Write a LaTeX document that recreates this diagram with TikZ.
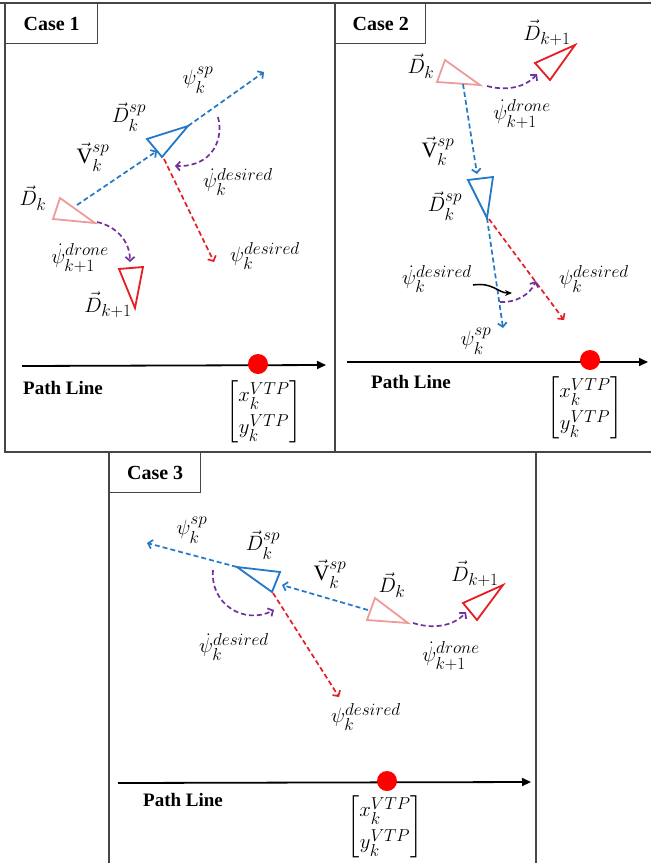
\documentclass[tikz,border=0pt]{standalone}
\usepackage{amsmath}
\usepackage{fontspec}
\setmainfont{Liberation Serif}
\usetikzlibrary{arrows.meta}
\DeclareMathSizes{21}{22}{16}{13}
\definecolor{myblue}{RGB}{35,120,200}
\definecolor{mypink}{RGB}{240,155,155}
\definecolor{myred}{RGB}{230,30,35}
\definecolor{mypurple}{RGB}{112,48,160}
\definecolor{myframe}{RGB}{70,70,70}
\newcommand{\vtpmat}{$\begin{bmatrix} x_k^{VTP}\\[6pt] y_k^{VTP}\end{bmatrix}$}
\begin{document}
\begin{tikzpicture}[x=1pt,y=-1pt,
  frame/.style={draw=myframe,line width=1.4pt},
  caselbl/.style={draw=myframe,line width=1.4pt,font=\fontsize{20}{22}\selectfont\bfseries,inner sep=0pt},
  lbl/.style={font=\fontsize{21}{23}\selectfont,inner sep=0pt},
  pathlbl/.style={font=\fontsize{19}{21}\selectfont\bfseries,inner sep=0pt},
  dsh/.style={line width=1.7pt,dash pattern=on 5pt off 3pt,-{Straight Barb[length=4pt,width=9pt]}},
  bluearr/.style={dsh,draw=myblue},
  redarr/.style={dsh,draw=myred},
  purparr/.style={dsh,draw=mypurple},
  tri/.style={line width=1.8pt,line join=miter},
  pinktri/.style={tri,draw=mypink},
  bluetri/.style={tri,draw=myblue},
  redtri/.style={tri,draw=myred},
  pathline/.style={draw=black,line width=1.8pt,-{Triangle[length=9pt,width=8pt]}},
  vtp/.style={fill=red,circle,minimum size=20pt,inner sep=0pt}]
\useasboundingbox (0,0) rectangle (651,863);
\clip (0,0) rectangle (651,863);
\fill[white] (0,0) rectangle (651,863);

% ---------- frames ----------
\draw[frame] (0,3) -- (651,3);
\draw[frame] (5,3) rectangle (335,452);
\draw[frame] (335,3) rectangle (660,452);
\draw[frame] (109,452) rectangle (536,870);
\node[caselbl,minimum width=92pt,minimum height=40pt,anchor=north west] (c1) at (5,3) {Case 1};
\node[caselbl,minimum width=90pt,minimum height=40pt,anchor=north west] (c2) at (335,3) {Case 2};
\node[caselbl,minimum width=91pt,minimum height=40pt,anchor=north west] (c3) at (109,452) {Case 3};

% ================= CASE 1 =================
\coordinate (a1) at (60,198); \coordinate (a2) at (53,219); \coordinate (a3) at (95,223);
\draw[pinktri] (a1) -- (a2) -- (a3) -- cycle;
\coordinate (b1) at (147,139); \coordinate (b2) at (162,157); \coordinate (b3) at (188,126);
\draw[bluetri] (b1) -- (b2) -- (b3) -- cycle;
\coordinate (r1) at (119,269); \coordinate (r2) at (143,267); \coordinate (r3) at (135,308);
\draw[redtri] (r1) -- (r2) -- (r3) -- cycle;
\coordinate (vs1) at (77,205); \coordinate (ve1) at (157,151);
\draw[bluearr] (vs1) -- (ve1);
\coordinate (pe1) at (264,72);
\draw[bluearr] (b3) -- (pe1);
\coordinate (rs1) at (164,159); \coordinate (re1) at (214,262);
\draw[redarr] (rs1) -- (re1);
\coordinate (ds1) at (218,117); \coordinate (de1) at (175,166);
\draw[purparr] (ds1) .. controls (224,140) and (212,167) .. (de1);
\coordinate (dr1) at (97,222); \coordinate (dre1) at (130,262);
\draw[purparr] (dr1) .. controls (115,226) and (130,240) .. (dre1);

\node[lbl] (l1a) at (198,80) {$\psi_k^{sp}$};
\node[lbl] (l1b) at (129,117) {$\vec{D}_k^{sp}$};
\node[lbl] (l1c) at (93,157) {$\vec{\mathrm{V}}_k^{sp}$};
\node[lbl] (l1d) at (238,182) {$\dot{\psi}_k^{desired}$};
\node[lbl] (l1e) at (33,198) {$\vec{D}_k$};
\node[lbl] (l1f) at (80,258) {$\dot{\psi}_{k+1}^{drone}$};
\node[lbl] (l1g) at (265,256) {$\psi_k^{desired}$};
\node[lbl] (l1h) at (108,305) {$\vec{D}_{k+1}$};

\coordinate (ps1) at (22,366); \coordinate (pp1) at (326,365);
\draw[pathline] (ps1) -- (pp1);
\node[vtp] (dot1) at (258,364) {};
\node[pathlbl] (pl1) at (63,388) {Path Line};
\node[lbl] (m1) at (264,412) {\vtpmat};

% ================= CASE 2 =================
\coordinate (a4) at (445,60); \coordinate (a5) at (437,82); \coordinate (a6) at (480,85);
\draw[pinktri] (a4) -- (a5) -- (a6) -- cycle;
\coordinate (r4) at (535,63); \coordinate (r5) at (575,45); \coordinate (r6) at (550,80);
\draw[redtri] (r4) -- (r5) -- (r6) -- cycle;
\coordinate (b4) at (468,180); \coordinate (b5) at (493,177); \coordinate (b6) at (487,218);
\draw[bluetri] (b4) -- (b5) -- (b6) -- cycle;
\coordinate (vs2) at (463,84); \coordinate (ve2) at (477,174);
\draw[bluearr] (vs2) -- (ve2);
\coordinate (pe2) at (503,328);
\draw[bluearr] (b6) -- (pe2);
\coordinate (rs2) at (489,219); \coordinate (re2) at (564,320);
\draw[redarr] (rs2) -- (re2);
\coordinate (dr2) at (487,86); \coordinate (dre2) at (537,74);
\draw[purparr] (dr2) .. controls (505,91) and (525,88) .. (dre2);
\coordinate (ds2) at (500,302); \coordinate (de2) at (536,281);
\draw[purparr] (ds2) .. controls (515,303) and (530,295) .. (de2);
\coordinate (ks2) at (473,285); \coordinate (ke2) at (512,293);
\draw[line width=1.5pt,-{Stealth[length=7pt,width=6pt]}] (ks2) .. controls (493,282) and (498,293) .. (ke2);

\node[lbl] (l2a) at (421,66) {$\vec{D}_k$};
\node[lbl] (l2b) at (547,33) {$\vec{D}_{k+1}$};
\node[lbl] (l2c) at (522,114) {$\dot{\psi}_{k+1}^{drone}$};
\node[lbl] (l2d) at (438,151) {$\vec{\mathrm{V}}_k^{sp}$};
\node[lbl] (l2e) at (445,206) {$\vec{D}_k^{sp}$};
\node[lbl] (l2f) at (437,279) {$\dot{\psi}_k^{desired}$};
\node[lbl] (l2g) at (594,279) {$\psi_k^{desired}$};
\node[lbl] (l2h) at (476,341) {$\psi_k^{sp}$};

\coordinate (ps2) at (347,362); \coordinate (pp2) at (648,362);
\draw[pathline] (ps2) -- (pp2);
\node[vtp] (dot2) at (590,360) {};
\node[pathlbl] (pl2) at (411,382) {Path Line};
\node[lbl] (m2) at (585,408) {\vtpmat};

% ================= CASE 3 =================
\coordinate (b7) at (237,567); \coordinate (b8) at (280,572); \coordinate (b9) at (272,592);
\draw[bluetri] (b7) -- (b8) -- (b9) -- cycle;
\coordinate (a7) at (375,598); \coordinate (a8) at (367,620); \coordinate (a9) at (408,623);
\draw[pinktri] (a7) -- (a8) -- (a9) -- cycle;
\coordinate (r7) at (463,603); \coordinate (r8) at (503,585); \coordinate (r9) at (477,620);
\draw[redtri] (r7) -- (r8) -- (r9) -- cycle;
\coordinate (pe3) at (147,543);
\draw[bluearr] (b7) -- (pe3);
\coordinate (vs3) at (368,610); \coordinate (ve3) at (282,585);
\draw[bluearr] (vs3) -- (ve3);
\coordinate (rs3) at (273,593); \coordinate (re3) at (339,697);
\draw[redarr] (rs3) -- (re3);
\coordinate (ds3) at (213,570); \coordinate (de3) at (274,610);
\draw[purparr] (ds3) .. controls (210,605) and (245,625) .. (de3);
\coordinate (dr3) at (413,623); \coordinate (dre3) at (466,612);
\draw[purparr] (dr3) .. controls (435,630) and (455,625) .. (dre3);

\node[lbl] (l3a) at (192,530) {$\psi_k^{sp}$};
\node[lbl] (l3b) at (263,545) {$\vec{D}_k^{sp}$};
\node[lbl] (l3c) at (330,574) {$\vec{\mathrm{V}}_k^{sp}$};
\node[lbl] (l3d) at (392,585) {$\vec{D}_k$};
\node[lbl] (l3e) at (475,574) {$\vec{D}_{k+1}$};
\node[lbl] (l3f) at (234,647) {$\dot{\psi}_k^{desired}$};
\node[lbl] (l3g) at (451,656) {$\dot{\psi}_{k+1}^{drone}$};
\node[lbl] (l3h) at (366,717) {$\psi_k^{desired}$};

\coordinate (ps3) at (118,783); \coordinate (pp3) at (531,782);
\draw[pathline] (ps3) -- (pp3);
\node[vtp] (dot3) at (387,781) {};
\node[pathlbl] (pl3) at (183,800) {Path Line};
\node[lbl] (m3) at (385,827) {\vtpmat};
\end{tikzpicture}
\end{document}
